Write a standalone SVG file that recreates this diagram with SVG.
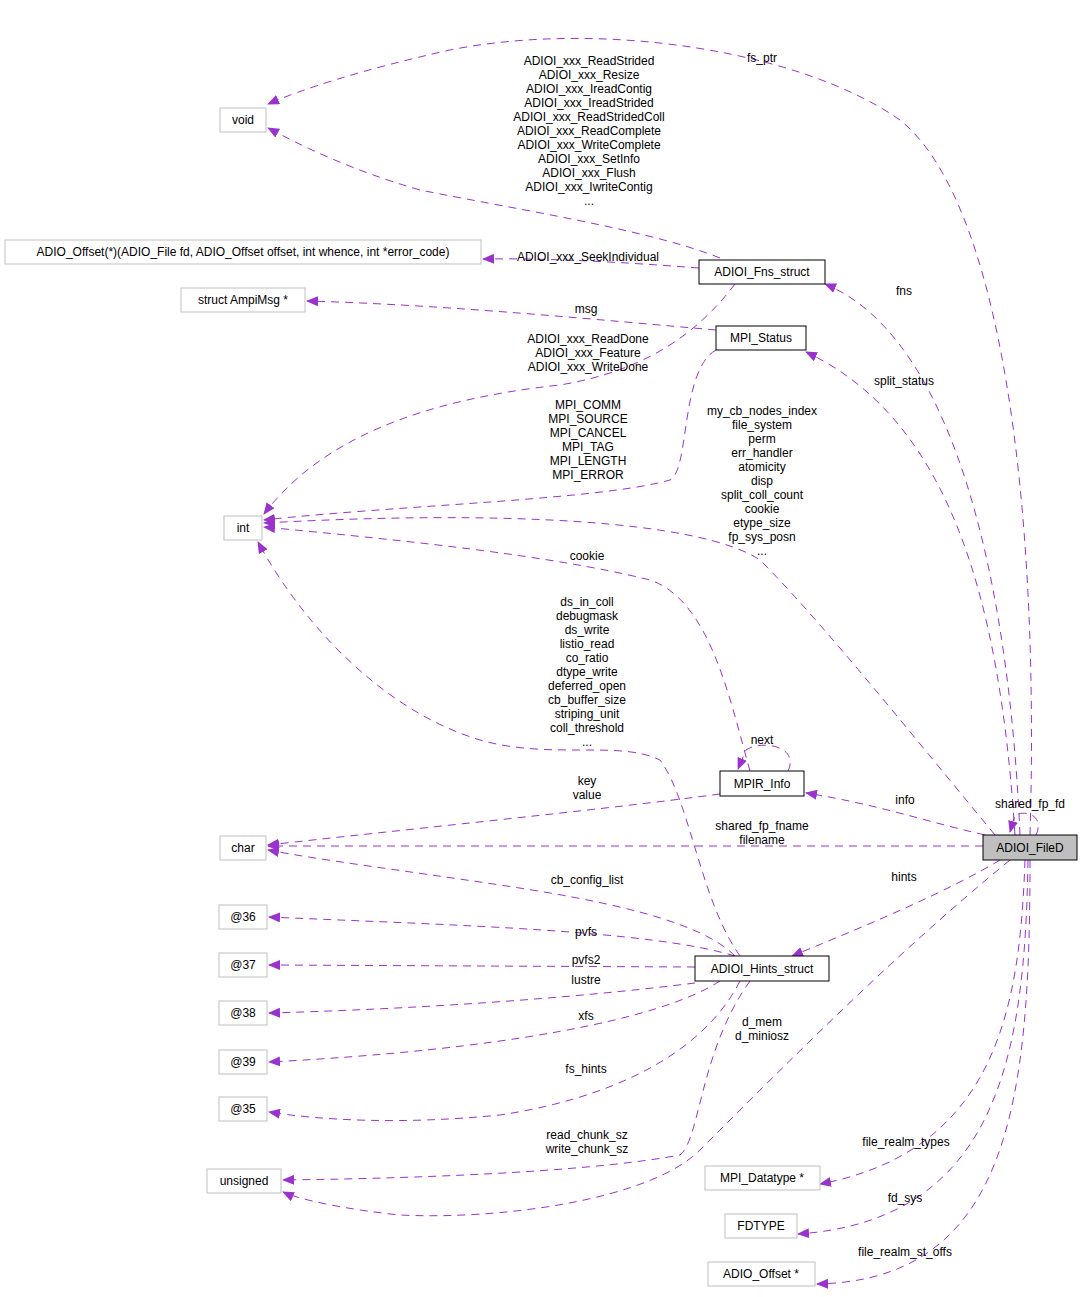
<svg xmlns="http://www.w3.org/2000/svg" width="1083" height="1297" viewBox="0 0 1083 1297">
<style>
text{font-family:"Liberation Sans",Arial,sans-serif;font-size:12px;text-anchor:middle;fill:#000}
.g rect{fill:#fff;stroke:#bfbfbf}
.s rect{fill:#fff;stroke:#000}
.e path{fill:none;stroke:#9a32cd;stroke-dasharray:8,6;marker-end:url(#a)}
</style>
<defs><marker id="a" markerWidth="12" markerHeight="10" refX="11" refY="5" orient="auto" markerUnits="userSpaceOnUse"><path d="M0,0 L12,5 L0,10 Z" fill="#9a32cd"/></marker></defs>
<rect width="1083" height="1297" fill="#fff"/>
<g class="e" id="edges">
<path d="M1030,835 C1040,500 1000,200 900,120 C800,50 600,20 450,50 C360,70 300,90 268,104"/>
<path d="M720,258 C650,230 520,210 420,190 C350,170 300,145 268,128"/>
<path d="M699,268 C620,262 550,258 483,259"/>
<path d="M1020,835 C1010,600 960,340 825,284"/>
<path d="M716,330 C600,320 450,305 307,301"/>
<path d="M1015,835 C1000,600 950,420 806,352"/>
<path d="M735,284 C700,330 650,370 560,385 C420,400 320,440 264,514"/>
<path d="M716,350 C680,370 690,470 670,480 C600,500 400,505 264,520"/>
<path d="M995,835 C900,720 820,620 760,560 C700,520 500,510 264,523"/>
<path d="M750,771 C730,700 710,600 650,580 C550,555 400,540 264,527"/>
<path d="M740,956 C700,900 690,800 660,760 C620,740 550,760 480,740 C380,710 300,620 258,542"/>
<path d="M788,771 C800,745 760,740 746,750 L738,769"/>
<path d="M985,835 C920,820 880,805 806,793"/>
<path d="M720,794 C600,810 400,830 268,845"/>
<path d="M983,846 L268,846"/>
<path d="M735,956 C700,920 600,900 500,885 C400,870 320,860 268,850"/>
<path d="M1036,835 C1045,815 1025,810 1015,815 L1010,832"/>
<path d="M1000,860 C950,890 880,920 792,956"/>
<path d="M735,956 C650,930 450,925 269,917"/>
<path d="M695,967 L269,965"/>
<path d="M695,983 C600,995 450,1008 269,1013"/>
<path d="M720,981 C660,1020 500,1050 269,1062"/>
<path d="M740,981 C700,1060 600,1100 500,1115 C400,1125 320,1120 269,1112"/>
<path d="M750,981 C700,1050 700,1140 680,1155 C600,1170 450,1178 283,1180"/>
<path d="M1010,860 C900,950 800,1050 700,1150 C650,1200 500,1220 400,1215 C350,1210 300,1200 283,1192"/>
<path d="M1025,860 C1020,1000 1000,1150 820,1184"/>
<path d="M1028,860 C1025,1050 1000,1220 798,1234"/>
<path d="M1030,860 C1030,1100 1010,1280 817,1284"/>
</g>
<g id="labels">
<text x="762" y="62">fs_ptr</text>
<text x="589" y="65">ADIOI_xxx_ReadStrided</text><text x="589" y="79">ADIOI_xxx_Resize</text><text x="589" y="93">ADIOI_xxx_IreadContig</text><text x="589" y="107">ADIOI_xxx_IreadStrided</text><text x="589" y="121">ADIOI_xxx_ReadStridedColl</text><text x="589" y="135">ADIOI_xxx_ReadComplete</text><text x="589" y="149">ADIOI_xxx_WriteComplete</text><text x="589" y="163">ADIOI_xxx_SetInfo</text><text x="589" y="177">ADIOI_xxx_Flush</text><text x="589" y="191">ADIOI_xxx_IwriteContig</text><text x="589" y="205">...</text>
<text x="588" y="261">ADIOI_xxx_SeekIndividual</text>
<text x="904" y="295">fns</text>
<text x="586" y="313">msg</text>
<text x="904" y="385">split_status</text>
<text x="588" y="343">ADIOI_xxx_ReadDone</text><text x="588" y="357">ADIOI_xxx_Feature</text><text x="588" y="371">ADIOI_xxx_WriteDone</text>
<text x="588" y="409">MPI_COMM</text><text x="588" y="423">MPI_SOURCE</text><text x="588" y="437">MPI_CANCEL</text><text x="588" y="451">MPI_TAG</text><text x="588" y="465">MPI_LENGTH</text><text x="588" y="479">MPI_ERROR</text>
<text x="762" y="415">my_cb_nodes_index</text><text x="762" y="429">file_system</text><text x="762" y="443">perm</text><text x="762" y="457">err_handler</text><text x="762" y="471">atomicity</text><text x="762" y="485">disp</text><text x="762" y="499">split_coll_count</text><text x="762" y="513">cookie</text><text x="762" y="527">etype_size</text><text x="762" y="541">fp_sys_posn</text><text x="762" y="555">...</text>
<text x="587" y="560">cookie</text>
<text x="587" y="606">ds_in_coll</text><text x="587" y="620">debugmask</text><text x="587" y="634">ds_write</text><text x="587" y="648">listio_read</text><text x="587" y="662">co_ratio</text><text x="587" y="676">dtype_write</text><text x="587" y="690">deferred_open</text><text x="587" y="704">cb_buffer_size</text><text x="587" y="718">striping_unit</text><text x="587" y="732">coll_threshold</text><text x="587" y="746">...</text>
<text x="762" y="744">next</text>
<text x="587" y="785">key</text><text x="587" y="799">value</text>
<text x="905" y="804">info</text>
<text x="1030" y="808">shared_fp_fd</text>
<text x="762" y="830">shared_fp_fname</text><text x="762" y="844">filename</text>
<text x="904" y="881">hints</text>
<text x="587" y="884">cb_config_list</text>
<text x="586" y="936">pvfs</text>
<text x="586" y="964">pvfs2</text>
<text x="586" y="984">lustre</text>
<text x="586" y="1020">xfs</text>
<text x="762" y="1026">d_mem</text><text x="762" y="1040">d_miniosz</text>
<text x="586" y="1073">fs_hints</text>
<text x="587" y="1139">read_chunk_sz</text><text x="587" y="1153">write_chunk_sz</text>
<text x="906" y="1146">file_realm_types</text>
<text x="905" y="1202">fd_sys</text>
<text x="905" y="1256">file_realm_st_offs</text>
</g>
<g id="void" class="g"><rect x="220" y="108" width="46" height="24"/><text x="243" y="124">void</text></g>
<g id="adiooffsetfn" class="g"><rect x="5" y="240" width="476" height="24"/><text x="243" y="256">ADIO_Offset(*)(ADIO_File fd, ADIO_Offset offset, int whence, int *error_code)</text></g>
<g id="ampimsg" class="g"><rect x="181" y="288" width="124" height="24"/><text x="243" y="304">struct AmpiMsg *</text></g>
<g id="int" class="g"><rect x="224" y="516" width="38" height="24"/><text x="243" y="532">int</text></g>
<g id="char" class="g"><rect x="220" y="836" width="46" height="24"/><text x="243" y="852">char</text></g>
<g id="a36" class="g"><rect x="219" y="905" width="48" height="24"/><text x="243" y="921">@36</text></g>
<g id="a37" class="g"><rect x="219" y="953" width="48" height="24"/><text x="243" y="969">@37</text></g>
<g id="a38" class="g"><rect x="219" y="1001" width="48" height="24"/><text x="243" y="1017">@38</text></g>
<g id="a39" class="g"><rect x="219" y="1050" width="48" height="24"/><text x="243" y="1066">@39</text></g>
<g id="a35" class="g"><rect x="219" y="1097" width="48" height="24"/><text x="243" y="1113">@35</text></g>
<g id="unsigned" class="g"><rect x="207" y="1169" width="74" height="24"/><text x="244" y="1185">unsigned</text></g>
<g id="mpidatatype" class="g"><rect x="705" y="1166" width="115" height="24"/><text x="762" y="1182">MPI_Datatype *</text></g>
<g id="fdtype" class="g"><rect x="725" y="1214" width="72" height="24"/><text x="761" y="1230">FDTYPE</text></g>
<g id="adiooffset" class="g"><rect x="708" y="1262" width="107" height="24"/><text x="761" y="1278">ADIO_Offset *</text></g>
<g id="fns" class="s"><rect x="699" y="260" width="126" height="24"/><text x="762" y="276">ADIOI_Fns_struct</text></g>
<g id="mpistatus" class="s"><rect x="716" y="326" width="90" height="24"/><text x="761" y="342">MPI_Status</text></g>
<g id="mpirinfo" class="s"><rect x="720" y="771" width="84" height="25"/><text x="762" y="788">MPIR_Info</text></g>
<g id="hints" class="s"><rect x="695" y="956" width="134" height="25"/><text x="762" y="973">ADIOI_Hints_struct</text></g>
<g id="filed"><rect x="983" y="835" width="94" height="25" fill="#bfbfbf" stroke="#000"/><text x="1030" y="852">ADIOI_FileD</text></g>
</svg>
